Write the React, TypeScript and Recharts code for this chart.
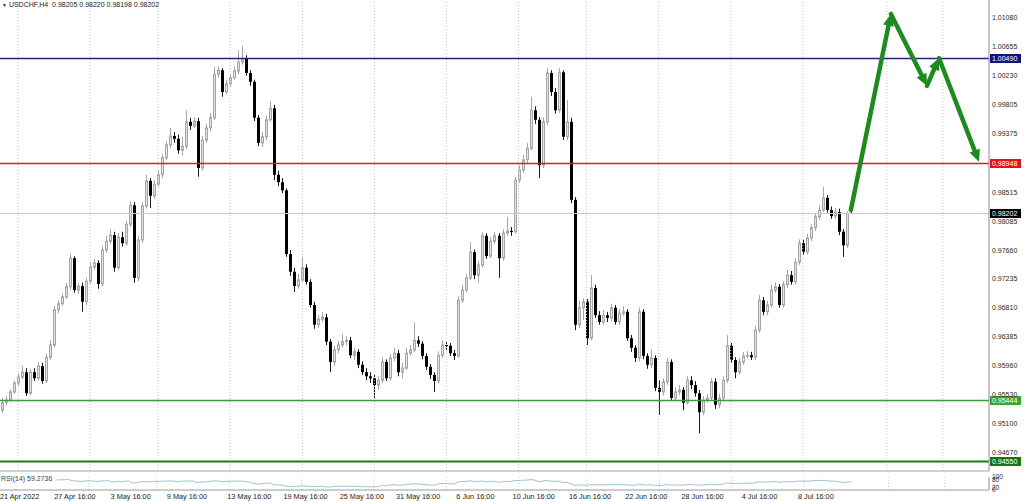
import React from "react";
import { ComposedChart, Bar, Line, XAxis, YAxis, ReferenceLine } from "recharts";

const FONT = '"Liberation Sans", Arial, sans-serif';
const symbol = "USDCHF,H4";

const opens = [0.9530,0.9541,0.9545,0.9557,0.9570,0.9579,0.9586,0.9555,0.9586,0.9577,
0.9595,0.9573,0.9608,0.9626,0.9678,0.9687,0.9697,0.9712,0.9754,0.9707,
0.9713,0.9690,0.9720,0.9741,0.9747,0.9716,0.9766,0.9779,0.9788,0.9740,
0.9785,0.9776,0.9804,0.9832,0.9725,0.9781,0.9831,0.9868,0.9846,0.9863,
0.9877,0.9902,0.9921,0.9934,0.9930,0.9913,0.9919,0.9955,0.9949,0.9956,
0.9887,0.9928,0.9946,0.9961,1.0025,1.0031,0.9999,1.0011,1.0020,1.0030,
1.0043,1.0048,1.0027,1.0014,0.9961,0.9924,0.9933,0.9958,0.9975,0.9877,
0.9866,0.9854,0.9760,0.9734,0.9713,0.9722,0.9740,0.9719,0.9685,0.9656,
0.9664,0.9667,0.9631,0.9601,0.9619,0.9626,0.9631,0.9633,0.9611,0.9616,
0.9597,0.9586,0.9580,0.9577,0.9567,0.9574,0.9601,0.9577,0.9607,0.9614,
0.9586,0.9592,0.9614,0.9619,0.9633,0.9628,0.9610,0.9594,0.9582,0.9573,
0.9611,0.9626,0.9625,0.9614,0.9610,0.9692,0.9707,0.9725,0.9763,0.9729,
0.9744,0.9787,0.9757,0.9779,0.9787,0.9754,0.9791,0.9794,0.9793,0.9869,
0.9884,0.9899,0.9916,0.9972,0.9958,0.9891,0.9955,1.0027,0.9999,0.9972,
1.0028,0.9933,0.9955,0.9840,0.9656,0.9681,0.9690,0.9636,0.9710,0.9670,
0.9660,0.9670,0.9666,0.9681,0.9660,0.9673,0.9675,0.9636,0.9622,0.9607,
0.9675,0.9610,0.9597,0.9607,0.9563,0.9557,0.9572,0.9601,0.9548,0.9557,
0.9560,0.9541,0.9574,0.9567,0.9555,0.9527,0.9545,0.9548,0.9572,0.9538,
0.9548,0.9574,0.9625,0.9604,0.9586,0.9601,0.9610,0.9611,0.9608,0.9648,
0.9692,0.9675,0.9685,0.9707,0.9712,0.9685,0.9715,0.9729,0.9719,0.9748,
0.9776,0.9763,0.9784,0.9799,0.9815,0.9825,0.9843,0.9825,0.9816,0.9822,
0.9793,0.9773,0.98205];

const highs = [0.9548,0.9551,0.9561,0.9574,0.9585,0.9595,0.9592,0.9591,0.9592,0.9601,
0.9600,0.9613,0.9633,0.9684,0.9692,0.9701,0.9718,0.9760,0.9757,0.9718,
0.9718,0.9725,0.9748,0.9753,0.9751,0.9772,0.9787,0.9797,0.9793,0.9791,
0.9793,0.9810,0.9838,0.9837,0.9787,0.9837,0.9877,0.9872,0.9869,0.9884,
0.9908,0.9927,0.9946,0.9940,0.9936,0.9933,0.9972,0.9961,0.9962,0.9961,
0.9934,0.9952,0.9968,1.0036,1.0037,1.0034,1.0017,1.0025,1.0037,1.0061,
1.0067,1.0053,1.0031,1.0017,0.9965,0.9940,0.9964,0.9986,0.9980,0.9883,
0.9872,0.9857,0.9766,0.9740,0.9731,0.9756,0.9745,0.9723,0.9690,0.9670,
0.9675,0.9672,0.9635,0.9625,0.9632,0.9642,0.9639,0.9638,0.9622,0.9620,
0.9602,0.9592,0.9586,0.9583,0.9580,0.9608,0.9605,0.9613,0.9622,0.9619,
0.9600,0.9622,0.9626,0.9659,0.9639,0.9632,0.9614,0.9598,0.9586,0.9617,
0.9633,0.9632,0.9629,0.9619,0.9698,0.9715,0.9731,0.9778,0.9767,0.9750,
0.9793,0.9791,0.9785,0.9793,0.9791,0.9797,0.9815,0.9800,0.9874,0.9891,
0.9906,0.9924,0.9992,0.9978,0.9962,0.9961,1.0034,1.0031,1.0005,1.0034,
1.0031,0.9987,0.9961,0.9844,0.9692,0.9695,0.9694,0.9729,0.9715,0.9676,
0.9678,0.9675,0.9687,0.9685,0.9679,0.9684,0.9679,0.9641,0.9626,0.9681,
0.9679,0.9614,0.9619,0.9611,0.9574,0.9577,0.9607,0.9605,0.9563,0.9567,
0.9564,0.9580,0.9580,0.9573,0.9560,0.9551,0.9554,0.9577,0.9577,0.9554,
0.9580,0.9641,0.9629,0.9608,0.9607,0.9616,0.9617,0.9616,0.9654,0.9700,
0.9697,0.9691,0.9715,0.9718,0.9716,0.9720,0.9737,0.9735,0.9754,0.9782,
0.9781,0.9790,0.9804,0.9821,0.9831,0.9859,0.9847,0.9830,0.9828,0.9827,
0.9797,0.9823,0.9822];

const lows = [0.9526,0.9538,0.9542,0.9554,0.9566,0.9576,0.9551,0.9552,0.9573,0.9574,
0.9569,0.9570,0.9604,0.9623,0.9673,0.9684,0.9694,0.9707,0.9703,0.9701,
0.9675,0.9685,0.9716,0.9737,0.9709,0.9712,0.9762,0.9775,0.9734,0.9737,
0.9771,0.9772,0.9800,0.9718,0.9720,0.9776,0.9827,0.9828,0.9841,0.9859,
0.9872,0.9899,0.9916,0.9924,0.9908,0.9905,0.9915,0.9943,0.9946,0.9874,
0.9883,0.9924,0.9941,0.9958,1.0020,0.9992,0.9995,1.0006,1.0017,1.0025,
1.0039,1.0023,1.0008,0.9956,0.9919,0.9918,0.9928,0.9955,0.9869,0.9860,
0.9850,0.9756,0.9728,0.9704,0.9709,0.9718,0.9715,0.9681,0.9650,0.9651,
0.9660,0.9626,0.9586,0.9595,0.9614,0.9622,0.9625,0.9607,0.9604,0.9592,
0.9582,0.9574,0.9570,0.9548,0.9560,0.9570,0.9573,0.9574,0.9602,0.9580,
0.9577,0.9589,0.9610,0.9616,0.9623,0.9605,0.9589,0.9576,0.9557,0.9569,
0.9607,0.9619,0.9610,0.9604,0.9607,0.9688,0.9704,0.9722,0.9723,0.9718,
0.9740,0.9753,0.9754,0.9775,0.9725,0.9750,0.9787,0.9787,0.9790,0.9865,
0.9880,0.9894,0.9913,0.9952,0.9872,0.9887,0.9950,0.9993,0.9967,0.9968,
0.9928,0.9928,0.9835,0.9648,0.9651,0.9663,0.9626,0.9633,0.9666,0.9656,
0.9656,0.9660,0.9661,0.9656,0.9656,0.9669,0.9632,0.9616,0.9601,0.9602,
0.9605,0.9591,0.9592,0.9558,0.9523,0.9552,0.9567,0.9544,0.9544,0.9552,
0.9530,0.9538,0.9561,0.9550,0.9496,0.9523,0.9541,0.9544,0.9532,0.9533,
0.9544,0.9570,0.9600,0.9577,0.9583,0.9597,0.9607,0.9604,0.9604,0.9644,
0.9670,0.9670,0.9681,0.9703,0.9681,0.9681,0.9710,0.9715,0.9715,0.9744,
0.9759,0.9759,0.9779,0.9794,0.9810,0.9822,0.9821,0.9812,0.9812,0.9788,
0.9756,0.9769,0.98198];

const closes = [0.9541,0.9545,0.9557,0.9570,0.9579,0.9586,0.9555,0.9586,0.9577,0.9595,
0.9573,0.9608,0.9626,0.9678,0.9687,0.9697,0.9712,0.9754,0.9707,0.9713,
0.9690,0.9720,0.9741,0.9747,0.9716,0.9766,0.9779,0.9788,0.9740,0.9785,
0.9776,0.9804,0.9832,0.9725,0.9781,0.9831,0.9868,0.9846,0.9863,0.9877,
0.9902,0.9921,0.9934,0.9930,0.9913,0.9919,0.9955,0.9949,0.9956,0.9887,
0.9928,0.9946,0.9961,1.0025,1.0031,0.9999,1.0011,1.0020,1.0030,1.0043,
1.0048,1.0027,1.0014,0.9961,0.9924,0.9933,0.9958,0.9975,0.9877,0.9866,
0.9854,0.9760,0.9734,0.9713,0.9722,0.9740,0.9719,0.9685,0.9656,0.9664,
0.9667,0.9631,0.9601,0.9619,0.9626,0.9631,0.9633,0.9611,0.9616,0.9597,
0.9586,0.9580,0.9577,0.9567,0.9574,0.9601,0.9577,0.9607,0.9614,0.9586,
0.9592,0.9614,0.9619,0.9633,0.9628,0.9610,0.9594,0.9582,0.9573,0.9611,
0.9626,0.9625,0.9614,0.9610,0.9692,0.9707,0.9725,0.9763,0.9729,0.9744,
0.9787,0.9757,0.9779,0.9787,0.9754,0.9791,0.9794,0.9793,0.9869,0.9884,
0.9899,0.9916,0.9972,0.9958,0.9891,0.9955,1.0027,0.9999,0.9972,1.0028,
0.9933,0.9955,0.9840,0.9656,0.9681,0.9690,0.9636,0.9710,0.9670,0.9660,
0.9670,0.9666,0.9681,0.9660,0.9673,0.9675,0.9636,0.9622,0.9607,0.9675,
0.9610,0.9597,0.9607,0.9563,0.9557,0.9572,0.9601,0.9548,0.9557,0.9560,
0.9541,0.9574,0.9567,0.9555,0.9527,0.9545,0.9548,0.9572,0.9538,0.9548,
0.9574,0.9625,0.9604,0.9586,0.9601,0.9610,0.9611,0.9608,0.9648,0.9692,
0.9675,0.9685,0.9707,0.9712,0.9685,0.9715,0.9729,0.9719,0.9748,0.9776,
0.9763,0.9784,0.9799,0.9815,0.9825,0.9843,0.9825,0.9816,0.9822,0.9793,
0.9773,0.9820,0.98202];

const futureSlots = 34;
const priceDomain = [0.94404, 1.01345];
const priceTicks = [1.0108, 1.00655, 1.0023, 0.99805, 0.99375, 0.98515, 0.98085, 0.9766, 0.97235, 0.9681, 0.96385, 0.9596, 0.9553, 0.951, 0.9467];

const levelValues = [1.0049, 0.98948, 0.98202, 0.95444, 0.9455];
const levelLineColors = ["#23237c", "#e01c1c", "#e4c2ae", "#3f9a3f", "#1d7a1d"];
const levelBoxColors = ["#14147c", "#e31414", "#000000", "#37a637", "#137813"];
const levelWidths = [1.3, 1.3, 1, 1.3, 2];

const dateTickIdx = [0, 14, 28, 42, 57, 71, 85, 99, 114, 128, 142, 156, 170, 185, 199];
const dateTickLabels = ["21 Apr 2022", "27 Apr 16:00", "3 May 16:00", "9 May 16:00", "13 May 16:00", "19 May 16:00", "25 May 16:00", "31 May 16:00", "6 Jun 16:00", "10 Jun 16:00", "16 Jun 16:00", "22 Jun 16:00", "28 Jun 16:00", "4 Jul 16:00", "8 Jul 16:00"];
const gridIdx = [4, 22, 39, 57, 75, 93, 111, 129, 146, 164, 182, 200, 221, 235];

const arrowIdx = [212, 222, 231, 234, 244];
const arrowPrice = [0.9825, 1.0114, 1.0008, 1.0049, 0.9896];
const ARROW = "#1f8a1f";

const rsiTicks = [0, 20, 80, 100];
const rsiLabel = "RSI(14) 59.2736";

function computeRsi(cl: number[], n: number) {
  const out: (number | null)[] = cl.map(() => null);
  let g = 0, l = 0;
  for (let k = 1; k <= n; k++) {
    const d = cl[k] - cl[k - 1];
    if (d > 0) g += d; else l -= d;
  }
  g /= n; l /= n;
  out[n] = l === 0 ? 100 : 100 - 100 / (1 + g / l);
  for (let k = n + 1; k < cl.length; k++) {
    const d = cl[k] - cl[k - 1];
    g = (g * (n - 1) + Math.max(d, 0)) / n;
    l = (l * (n - 1) + Math.max(-d, 0)) / n;
    out[k] = l === 0 ? 100 : 100 - 100 / (1 + g / l);
  }
  return out;
}

const rsiValues = computeRsi(closes, 14);
const total = closes.length + futureSlots;
const data = Array.from({ length: total }, (_, i) =>
  i < closes.length
    ? { i, o: opens[i], h: highs[i], l: lows[i], c: closes[i], range: [lows[i], highs[i]], rsi: rsiValues[i] }
    : { i }
);

const Candle = (props: any) => {
  const { x, y, width, height, payload } = props;
  if (!payload || payload.o == null || !isFinite(y) || !isFinite(height)) return <g />;
  const { o, h, l, c } = payload;
  const top = Math.min(y, y + height);
  const hgt = Math.abs(height);
  const ratio = h > l ? hgt / (h - l) : 0;
  const py = (v: number) => top + (h - v) * ratio;
  const cx = Math.round(x + width / 2);
  const bull = c >= o;
  const bTop = py(Math.max(o, c));
  const bBot = py(Math.min(o, c));
  const bodyH = Math.max(1, bBot - bTop);
  if (bull) {
    return (
      <g>
        <line x1={cx + 0.5} x2={cx + 0.5} y1={py(h)} y2={py(l)} stroke="#a6a6a6" strokeWidth={1} />
        <rect x={cx - 0.5} y={bTop} width={2} height={bodyH} fill="#e2e2e2" stroke="#a6a6a6" strokeWidth={1} />
      </g>
    );
  }
  return (
    <g>
      <line x1={cx + 0.5} x2={cx + 0.5} y1={py(h)} y2={py(l)} stroke="#1a1a1a" strokeWidth={1} />
      <rect x={cx - 1} y={bTop} width={3} height={bodyH} fill="#000" />
    </g>
  );
};

const makeLevelShape = (k: number) => (p: any) => {
  const { x1, x2, y1 } = p;
  const left = Math.min(x1, x2);
  const right = Math.max(x1, x2);
  const yy = Math.round(y1) + 0.5;
  return (
    <g>
      <line x1={left} x2={right} y1={yy} y2={yy} stroke={levelLineColors[k]} strokeWidth={levelWidths[k]} />
      <rect x={right + 1} y={yy - 4.5} width={31} height={9} fill={levelBoxColors[k]} />
      <text x={right + 3} y={yy + 2.5} fontSize={7} fill="#ffffff" fontFamily={FONT}>
        {levelValues[k].toFixed(5)}
      </text>
    </g>
  );
};

const ArrowShape = (p: any) => {
  const { x1, y1, x2, y2 } = p;
  const a = Math.atan2(y2 - y1, x2 - x1);
  const len = 12, half = 5.5;
  const bx = x2 - len * Math.cos(a), by = y2 - len * Math.sin(a);
  const nx = -Math.sin(a), ny = Math.cos(a);
  return (
    <g>
      <line x1={x1} y1={y1} x2={bx} y2={by} stroke={ARROW} strokeWidth={4.5} strokeLinecap="round" />
      <polygon points={`${x2},${y2} ${bx + nx * half},${by + ny * half} ${bx - nx * half},${by - ny * half}`} fill={ARROW} />
    </g>
  );
};

const DateTick = (p: any) => {
  const { x, y, payload } = p;
  const k = dateTickIdx.indexOf(payload.value);
  if (k < 0) return <g />;
  return (
    <text x={Math.max(0, x - 2)} y={y + 9} fontSize={7.3} fill="#222" fontFamily={FONT} textAnchor="start">
      {dateTickLabels[k]}
    </text>
  );
};

export default function App() {
  const last = closes.length - 1;
  const title = `${symbol}  ${opens[last].toFixed(5)} ${highs[last].toFixed(5)} ${lows[last].toFixed(5)} ${closes[last].toFixed(5)}`;
  return (
    <div style={{ position: "absolute", left: 0, top: 0, width: 1024, height: 501, background: "#fff", overflow: "hidden", fontFamily: FONT }}>
      <div style={{ position: "absolute", left: 0, top: 0 }}>
        <ComposedChart width={1024} height={472} data={data} margin={{ top: 0, right: 0, bottom: 0, left: 0 }} barCategoryGap={0.5}>
          <XAxis dataKey="i" type="category" height={1} tick={false} tickLine={false} axisLine={{ stroke: "#a4a4a4" }} interval={0} />
          <YAxis
            orientation="right"
            width={35}
            type="number"
            domain={priceDomain}
            allowDataOverflow
            ticks={priceTicks}
            interval={0}
            tickSize={0}
            tickMargin={3}
            tickLine={false}
            axisLine={{ stroke: "#8c8c8c" }}
            tick={{ fontSize: 7, fill: "#2a2a2a", fontFamily: FONT }}
            tickFormatter={(v: number) => v.toFixed(5)}
          />
          {gridIdx.map((g) => (
            <ReferenceLine key={"g" + g} x={g} stroke="#c6c6c6" strokeDasharray="1 2" ifOverflow="visible" />
          ))}
          <Bar dataKey="range" shape={Candle} isAnimationActive={false} />
          {levelValues.map((v, k) => (
            <ReferenceLine key={"lv" + k} y={v} shape={makeLevelShape(k)} ifOverflow="visible" />
          ))}
          {arrowIdx.slice(0, -1).map((xi, k) => (
            <ReferenceLine
              key={"ar" + k}
              segment={[{ x: xi, y: arrowPrice[k] }, { x: arrowIdx[k + 1], y: arrowPrice[k + 1] }]}
              shape={ArrowShape}
              ifOverflow="visible"
            />
          ))}
        </ComposedChart>
      </div>
      <div style={{ position: "absolute", left: 0, top: 472 }}>
        <ComposedChart width={1024} height={29} data={data} margin={{ top: 5, right: 0, bottom: 0, left: 0 }}>
          <XAxis
            dataKey="i"
            type="category"
            height={11}
            ticks={dateTickIdx}
            interval={0}
            tickLine={false}
            tickSize={0}
            tickMargin={0}
            axisLine={{ stroke: "#9a9a9a" }}
            tick={<DateTick />}
          />
          <YAxis
            orientation="right"
            width={35}
            type="number"
            domain={[0, 100]}
            ticks={rsiTicks}
            interval={0}
            tickSize={0}
            tickMargin={3}
            tickLine={false}
            axisLine={{ stroke: "#8c8c8c" }}
            tick={{ fontSize: 6.5, fill: "#2a2a2a", fontFamily: FONT }}
          />
          {gridIdx.map((g) => (
            <ReferenceLine key={"rg" + g} x={g} stroke="#c6c6c6" strokeDasharray="1 2" ifOverflow="visible" />
          ))}
          <Line dataKey="rsi" stroke="#9fc4d6" strokeWidth={1} dot={false} isAnimationActive={false} />
        </ComposedChart>
      </div>
      <div style={{ position: "absolute", left: 2, top: 0, fontSize: 7, lineHeight: "10px", color: "#222", whiteSpace: "pre" }}>
        <span style={{ fontSize: 5 }}>{"\u25BC"}</span>{" " + title}
      </div>
      <div style={{ position: "absolute", left: 1, top: 474, fontSize: 7, lineHeight: "9px", color: "#444", whiteSpace: "pre" }}>
        {rsiLabel}
      </div>
    </div>
  );
}
